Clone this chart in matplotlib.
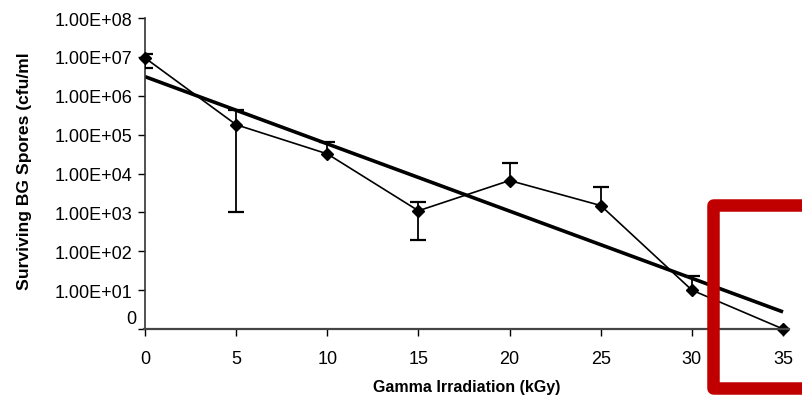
import matplotlib
matplotlib.use("Agg")
import matplotlib.pyplot as plt
import numpy as np
from matplotlib.lines import Line2D

# ---- data ----
dose_kgy = [0, 5, 10, 15, 20, 25, 30, 35]
spores = [9.4e6, 1.8e5, 3.2e4, 1.1e3, 6.6e3, 1.5e3, 10, 1]
err_upper = [1.2e7, 4.4e5, 6.3e4, 1.9e3, 1.9e4, 4.4e3, 23, None]
err_lower = [5.2e6, 1.0e3, None, 1.9e2, None, None, None, None]
trend_x = [0, 35]
trend_y = [3.1e6, 2.75]
yticks = [1, 1e1, 1e2, 1e3, 1e4, 1e5, 1e6, 1e7, 1e8]
ytick_labels = ["0", "1.00E+01", "1.00E+02", "1.00E+03", "1.00E+04",
                "1.00E+05", "1.00E+06", "1.00E+07", "1.00E+08"]
xticks = [0, 5, 10, 15, 20, 25, 30, 35]

plt.rcParams['font.family'] = ['Liberation Sans', 'DejaVu Sans']

W, H = 803, 406
fig = plt.figure(figsize=(W / 100, H / 100), dpi=100)
ax = fig.add_axes([145 / W, 1 - 330 / H, (788.5 - 145) / W, (330 - 19) / H])
ax.set_yscale('log')
ax.set_xlim(0, 35.3)
ax.set_ylim(1, 1e8)

# error bars
for x, y, up, lo in zip(dose_kgy, spores, err_upper, err_lower):
    top = up if up is not None else y
    bot = lo if lo is not None else y
    if top != bot:
        ax.plot([x, x], [bot, top], color='black', lw=1.3, zorder=3)
    for e in (up, lo):
        if e is not None:
            ax.plot([x], [e], marker='_', ms=12, mew=1.6, color='black', zorder=3)

ax.plot(dose_kgy, spores, color='black', lw=1.2, marker='D', ms=6.5,
        zorder=4, clip_on=False)
ax.plot(trend_x, trend_y, color='black', lw=2.6, zorder=2,
        solid_capstyle='butt')

ax.set_yticks(yticks)
# "0" label is drawn separately, a little above its tick as in the reference
ax.set_yticklabels([""] + ytick_labels[1:])
ax.annotate(ytick_labels[0], xy=(0, yticks[0]), xycoords=('axes fraction', 'data'),
            xytext=(-9, 10), textcoords='offset pixels', ha='right', va='center',
            fontsize=13)
ax.yaxis.set_minor_locator(matplotlib.ticker.NullLocator())
ax.set_xticks(xticks)
ax.tick_params(axis='y', direction='out', length=5, width=1, labelsize=13, pad=4)
ax.tick_params(axis='x', direction='out', length=5, width=1, labelsize=13, pad=10)
for s in ('top', 'right'):
    ax.spines[s].set_visible(False)
for s in ('left', 'bottom'):
    ax.spines[s].set_linewidth(1.2)
    ax.spines[s].set_color('#333333')

ax.set_xlabel("Gamma Irradiation (kGy)", fontsize=11.5, fontweight='bold', labelpad=9)
fig.text(25 / W, 1 - 171 / H, "Surviving BG Spores (cfu/ml", rotation=90,
         fontsize=12.6, fontweight='bold', ha='center', va='center')

fx = lambda p: p / W
fy = lambda p: 1 - p / H

# x axis base line drawn at figure level too (axis at pixel row 330)
fig.add_artist(Line2D([fx(144), fx(789)], [fy(330), fy(330)],
                      transform=fig.transFigure, color='#444444', lw=1.6,
                      zorder=3))

# red bracket annotation
bracket = Line2D([fx(810), fx(713), fx(713), fx(810)],
                 [fy(206), fy(206), fy(389), fy(389)],
                 transform=fig.transFigure, color='#C00000', lw=9,
                 solid_joinstyle='round', solid_capstyle='butt', zorder=5)
fig.add_artist(bracket)

fig.savefig("out.png", dpi=100)
